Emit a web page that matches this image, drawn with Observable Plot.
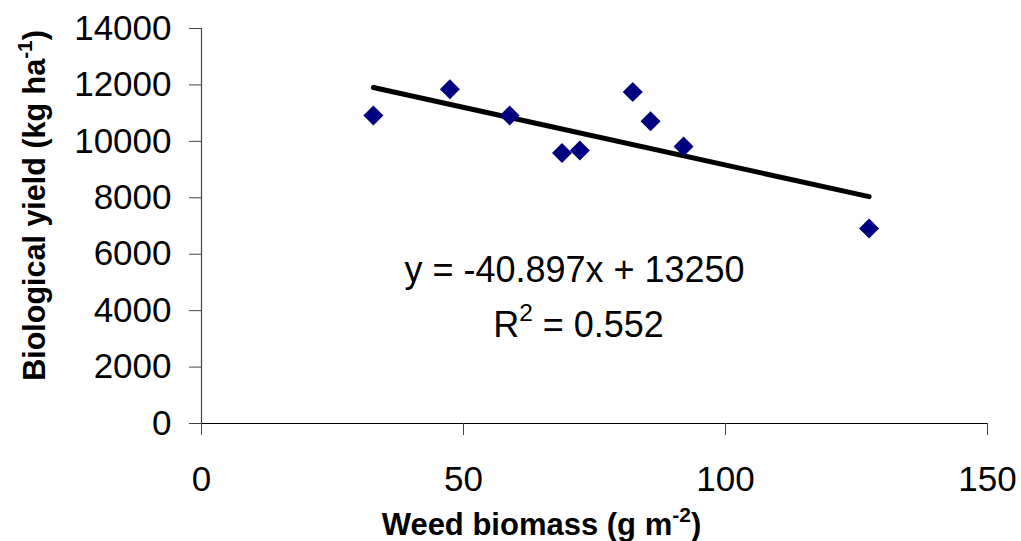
<!DOCTYPE html>
<html>
<head>
<meta charset="utf-8">
<script src="https://cdn.jsdelivr.net/npm/d3@7"></script>
<script src="https://cdn.jsdelivr.net/npm/@observablehq/plot@0.6"></script>
<style>
  html, body { margin: 0; padding: 0; background: #fff; }
  #chart { width: 1021px; height: 541px; }
</style>
</head>
<body>
<div id="chart"></div>
<script>
// Data
const weedBiomass = [32.8, 47.4, 58.8, 68.8, 72.2, 82.3, 85.7, 92.0, 127.4];
const biologicalYield = [10920, 11850, 10920, 9590, 9680, 11750, 10710, 9820, 6910];
const xTicks = [0, 50, 100, 150];
const yTicks = [0, 2000, 4000, 6000, 8000, 10000, 12000, 14000];
const trendSlope = -40.897;
const trendIntercept = 13250;
const equationText = "y = -40.897x + 13250";
const rSquaredText = "R2 = 0.552";
const xTitle = "Weed biomass (g m-2)";
const yTitle = "Biological yield (kg ha-1)";

const points = weedBiomass.map((x, i) => ({x, y: biologicalYield[i]}));
const xExtent = d3.extent(weedBiomass);
const trend = xExtent.map(x => ({x, y: trendSlope * x + trendIntercept}));

const font = "'Liberation Sans', Arial, Helvetica, sans-serif";

const chart = Plot.plot({
  width: 1021,
  height: 541,
  marginLeft: 201,
  marginRight: 34,
  marginTop: 28,
  marginBottom: 118,
  style: {fontFamily: font, background: "#fff", color: "#000"},
  x: {domain: [0, 150]},
  y: {domain: [0, 14000]},
  marks: [
    Plot.ruleX([0], {y1: 0, y2: 14000, stroke: "#444", strokeWidth: 1.2}),
    Plot.ruleY([0], {x1: 0, x2: 150, stroke: "#000", strokeWidth: 1.2}),
    Plot.axisY({ticks: yTicks, tickSize: 12, tickPadding: 18, fontSize: 35, tickFormat: d => String(d), label: null, stroke: "#444", strokeOpacity: 1}),
    Plot.axisX({ticks: xTicks, tickSize: 12, tickPadding: 31, fontSize: 35, tickFormat: d => String(d), label: null, stroke: "#444", strokeOpacity: 1}),
    Plot.line(trend, {x: "x", y: "y", stroke: "#000", strokeWidth: 5}),
    Plot.dot(points, {x: "x", y: "y", symbol: "diamond2", r: 9, fill: "#000080", stroke: "none"}),
    Plot.text([equationText], {text: d => d, frameAnchor: "top-left", dx: 373, dy: 242, fontSize: 36, textAnchor: "middle", lineAnchor: "middle", fill: "#000", className: "eq"}),
    Plot.text([rSquaredText], {text: d => d, frameAnchor: "top-left", dx: 377, dy: 297, fontSize: 36, textAnchor: "middle", lineAnchor: "middle", fill: "#000", className: "rsq"}),
    Plot.text([xTitle], {text: d => d, frameAnchor: "bottom-left", dx: 340, dy: 102, fontSize: 31, fontWeight: "bold", textAnchor: "middle", lineAnchor: "middle", fill: "#000", className: "xtitle"}),
    Plot.text([yTitle], {text: d => d, frameAnchor: "top-left", dx: -166, dy: 177, rotate: -90, fontSize: 30.5, fontWeight: "bold", textAnchor: "middle", lineAnchor: "middle", fill: "#000", className: "ytitle"})
  ]
});

document.getElementById("chart").appendChild(chart);

// Superscripts
function superscript(cls, base, sup, rest) {
  const t = d3.select(chart).select("." + cls).select("text");
  t.text(null);
  t.append("tspan").text(base);
  t.append("tspan").attr("dy", "-0.65em").attr("font-size", "0.68em").text(sup);
  t.append("tspan").attr("dy", "0.44em").text(rest);
}
superscript("rsq", "R", "2", " = 0.552");
superscript("xtitle", "Weed biomass (g m", "-2", ")");
superscript("ytitle", "Biological yield (kg ha", "-1", ")");
</script>
</body>
</html>
